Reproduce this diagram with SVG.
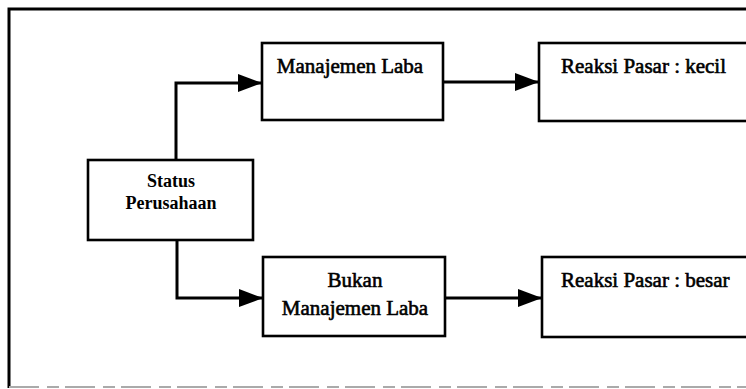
<svg xmlns="http://www.w3.org/2000/svg" width="746" height="389" viewBox="0 0 746 389">
<defs>
<marker id="arr" markerUnits="userSpaceOnUse" markerWidth="26" markerHeight="20" refX="24" refY="10" orient="auto">
<path d="M0,1 L24,10 L0,19 Z" fill="#000"/>
</marker>
<style>
.box{fill:#fff;stroke:#000;stroke-width:2.6}
.t{font-family:"Liberation Serif","Times New Roman",serif;font-size:21px;fill:#000;stroke:#000;stroke-width:0.6}
.s{font-family:"Liberation Serif","Times New Roman",serif;font-size:18px;font-weight:bold;fill:#000;text-anchor:middle}
.c{fill:none;stroke:#000;stroke-width:3}
</style>
</defs>
<rect width="746" height="389" fill="#fff"/>
<g id="frame">
<path d="M9,388 V9 H760" fill="none" stroke="#000" stroke-width="3"/>
<path d="M9,387 H760" fill="none" stroke="#aaa" stroke-width="2" stroke-dasharray="30,8,12,6"/>
</g>
<g id="connectors">
<path class="c" d="M176,160 V83 H262" marker-end="url(#arr)"/>
<path class="c" d="M177,240 V298 H263" marker-end="url(#arr)"/>
<path class="c" d="M443,82 H539" marker-end="url(#arr)"/>
<path class="c" d="M445,298 H542" marker-end="url(#arr)"/>
</g>
<g id="status">
<rect class="box" x="88" y="160" width="165" height="80"/>
<text class="s" x="171" y="187">Status</text>
<text class="s" x="171" y="209">Perusahaan</text>
</g>
<g id="manajemen-laba">
<rect class="box" x="262" y="43" width="181" height="77"/>
<text class="t" x="350" y="73" text-anchor="middle">Manajemen Laba</text>
</g>
<g id="reaksi-kecil">
<rect class="box" x="539" y="43" width="230" height="78"/>
<text class="t" x="561" y="73">Reaksi Pasar : kecil</text>
</g>
<g id="bukan-manajemen-laba">
<rect class="box" x="263" y="257" width="182" height="79"/>
<text class="t" x="355" y="287" text-anchor="middle">Bukan</text>
<text class="t" x="355" y="315" text-anchor="middle">Manajemen Laba</text>
</g>
<g id="reaksi-besar">
<rect class="box" x="542" y="257" width="230" height="80"/>
<text class="t" x="561" y="287">Reaksi Pasar : besar</text>
</g>
</svg>
